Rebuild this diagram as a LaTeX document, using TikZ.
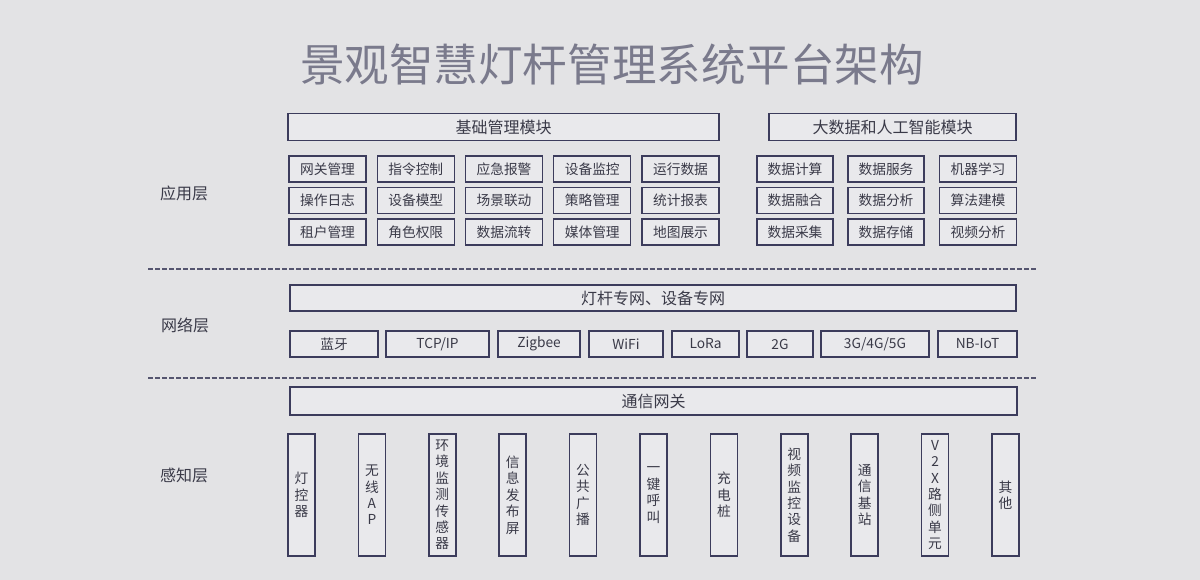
\documentclass[tikz,border=0pt]{standalone}
\usepackage{fontspec}
\setmainfont{Noto Sans CJK SC}
\definecolor{bgc}{HTML}{E3E3E5}
\definecolor{boxfill}{HTML}{E9E9EC}
\definecolor{edge}{HTML}{3C3C5C}
\definecolor{txt}{HTML}{3A3A48}
\definecolor{titlec}{HTML}{7A7A8C}
\definecolor{dashc}{HTML}{55556F}
\tikzset{
  px/.style={x=0.75pt,y=-0.75pt},
  box/.style={draw=edge, fill=boxfill, line width=1.1pt, inner sep=0pt, text=txt, font=\fontsize{10.3}{12}\selectfont},
  hbox/.style={box, font=\fontsize{12}{14}\selectfont},
  vbox/.style={box, align=center, minimum width=27*0.75pt, minimum height=122*0.75pt, font=\fontsize{10.3}{12.3}\selectfont},
  layerlabel/.style={text=txt, font=\fontsize{12}{14}\selectfont, inner sep=0pt},
  sep/.style={draw=dashc, line width=1.4pt, dash pattern=on 3.8pt off 1.5pt}
}
\newcommand\gbox[5]{\node[box, minimum width=#4*0.75pt, minimum height=#5*0.75pt] (#1) at (#2) {#3};}
\begin{document}
\begin{tikzpicture}[px]
\fill[bgc] (0,0) rectangle (1200,580);
\useasboundingbox (0,0) rectangle (1200,580);

% title
\node[text=titlec, font=\fontsize{33.4}{36}\selectfont, inner sep=0pt] (title) at (612,65) {景观智慧灯杆管理系统平台架构};

% layer labels
\node[layerlabel] (lapp) at (184,193) {应用层};
\node[layerlabel] (lnet) at (185,325) {网络层};
\node[layerlabel] (lper) at (184,475) {感知层};

% separators
\coordinate (s1a) at (148,269); \coordinate (s1b) at (1038,269);
\coordinate (s2a) at (148,378); \coordinate (s2b) at (1038,378);
\draw[sep] (s1a) -- (s1b);
\draw[sep] (s2a) -- (s2b);

% application layer headers
\node[hbox, minimum width=431*0.75pt, minimum height=27*0.75pt] (hbase) at (503.5,127) {基础管理模块};
\node[hbox, minimum width=247*0.75pt, minimum height=27*0.75pt] (hbig) at (892.5,127) {大数据和人工智能模块};

% left grid
\gbox{a11}{327.5,169}{网关管理}{77}{26}
\gbox{a12}{415.75,169}{指令控制}{77}{26}
\gbox{a13}{504,169}{应急报警}{77}{26}
\gbox{a14}{592.25,169}{设备监控}{77}{26}
\gbox{a15}{680.5,169}{运行数据}{77}{26}
\gbox{a21}{327.5,200.5}{操作日志}{77}{26}
\gbox{a22}{415.75,200.5}{设备模型}{77}{26}
\gbox{a23}{504,200.5}{场景联动}{77}{26}
\gbox{a24}{592.25,200.5}{策略管理}{77}{26}
\gbox{a25}{680.5,200.5}{统计报表}{77}{26}
\gbox{a31}{327.5,232}{租户管理}{77}{26}
\gbox{a32}{415.75,232}{角色权限}{77}{26}
\gbox{a33}{504,232}{数据流转}{77}{26}
\gbox{a34}{592.25,232}{媒体管理}{77}{26}
\gbox{a35}{680.5,232}{地图展示}{77}{26}

% right grid
\gbox{b11}{795,169}{数据计算}{76}{26}
\gbox{b12}{886,169}{数据服务}{76}{26}
\gbox{b13}{978,169}{机器学习}{77}{26}
\gbox{b21}{795,200.5}{数据融合}{76}{26}
\gbox{b22}{886,200.5}{数据分析}{76}{26}
\gbox{b23}{978,200.5}{算法建模}{77}{26}
\gbox{b31}{795,232}{数据采集}{76}{26}
\gbox{b32}{886,232}{数据存储}{76}{26}
\gbox{b33}{978,232}{视频分析}{77}{26}

% network layer
\node[hbox, minimum width=726*0.75pt, minimum height=26*0.75pt] (hnet) at (653,298) {灯杆专网、设备专网};
\gbox{n1}{334,344}{蓝牙}{88}{26}
\gbox{n2}{437.5,344}{TCP/IP}{103}{26}
\gbox{n3}{539,344}{Zigbee}{82}{26}
\gbox{n4}{626,344}{WiFi}{74}{26}
\gbox{n5}{705.5,344}{LoRa}{67}{26}
\gbox{n6}{780,344}{2G}{66}{26}
\gbox{n7}{875,344}{3G/4G/5G}{108}{26}
\gbox{n8}{977.5,344}{NB-IoT}{79}{26}

% gateway
\node[hbox, minimum width=727*0.75pt, minimum height=28*0.75pt] (gw) at (653.5,401) {通信网关};

% perception layer
\node[vbox] (p1) at (301.5,495) {灯\\控\\器};
\node[vbox] (p2) at (371.9,495) {无\\线\\A\\P};
\node[vbox] (p3) at (442.3,495) {环\\境\\监\\测\\传\\感\\器};
\node[vbox] (p4) at (512.7,495) {信\\息\\发\\布\\屏};
\node[vbox] (p5) at (583.1,495) {公\\共\\广\\播};
\node[vbox] (p6) at (653.5,495) {一\\键\\呼\\叫};
\node[vbox] (p7) at (723.9,495) {充\\电\\桩};
\node[vbox] (p8) at (794.3,495) {视\\频\\监\\控\\设\\备};
\node[vbox] (p9) at (864.7,495) {通\\信\\基\\站};
\node[vbox] (p10) at (935.1,495) {V\\2\\X\\路\\侧\\单\\元};
\node[vbox] (p11) at (1005.5,495) {其\\他};
\end{tikzpicture}
\end{document}
